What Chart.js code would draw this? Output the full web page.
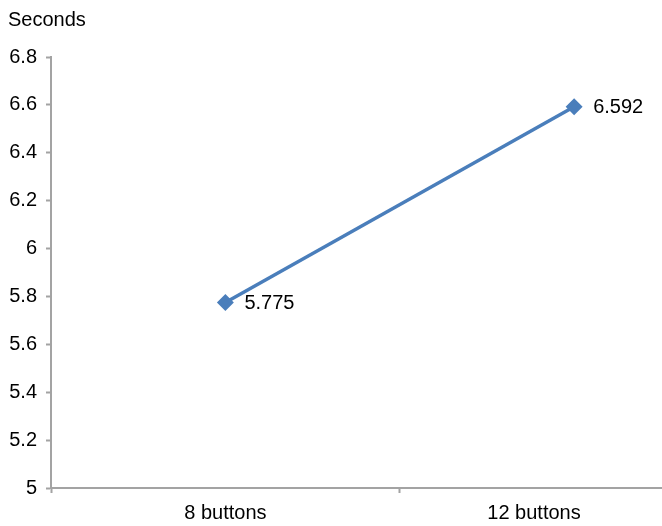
<!DOCTYPE html>
<html><head><meta charset="utf-8">
<script src="https://cdn.jsdelivr.net/npm/chart.js@4/dist/chart.umd.min.js"></script>
<style>html,body{margin:0;padding:0;overflow:hidden;background:#fff}#wrap{width:758px;height:526px}</style>
</head><body><div id="wrap"><canvas id="c" width="758" height="526"></canvas></div>
<script>
const categories = ["8 buttons", "12 buttons"];
const seconds = [5.775, 6.592];
const yTickValues = [5, 5.2, 5.4, 5.6, 5.8, 6, 6.2, 6.4, 6.6, 6.8];
const yTitle = "Seconds";

const FONT = "'Liberation Sans', Arial, sans-serif";
const AXIS = "#a3a3a3";
const LABEL_SHIFT = 0.885; // where the second category label sits on the x scale

const valueLabels = {
  id: 'valueLabels',
  afterDatasetsDraw(chart) {
    const ctx = chart.ctx;
    const meta = chart.getDatasetMeta(0);
    ctx.save();
    ctx.font = "20px " + FONT;
    ctx.fillStyle = "#000";
    ctx.textAlign = "left";
    ctx.textBaseline = "middle";
    meta.data.forEach((pt, i) => {
      ctx.fillText(String(seconds[i]), pt.x + 19, pt.y + 1);
    });
    ctx.restore();
  }
};

new Chart(document.getElementById('c'), {
  type: 'line',
  data: {
    datasets: [{
      data: seconds.map((v, i) => ({x: i, y: v})),
      borderColor: '#4a7ebb',
      backgroundColor: '#4a7ebb',
      borderWidth: 3.5,
      pointStyle: 'rectRot',
      pointRadius: 6,
      pointHoverRadius: 6,
      fill: false,
      tension: 0
    }]
  },
  options: {
    responsive: false,
    animation: false,
    events: [],
    layout: {padding: {left: 8, right: 0, top: 0, bottom: 0}},
    plugins: {
      legend: {display: false},
      tooltip: {enabled: false},
      title: {
        display: true, text: yTitle, align: 'start', color: '#000',
        font: {family: FONT, size: 20, weight: 'normal'},
        padding: {top: 8, bottom: 25}
      }
    },
    scales: {
      x: {
        type: 'linear', min: -0.5, max: 1.5,
        afterBuildTicks: s => {
          s.ticks = [{value: -0.5}, {value: 0}, {value: 0.5}, {value: LABEL_SHIFT}, {value: 1.5}];
        },
        afterFit: s => { s.height = 38; },
        border: {display: true, color: AXIS, width: 2},
        grid: {
          drawOnChartArea: false, drawTicks: true, tickLength: 5,
          tickColor: c => (c.tick && (c.tick.value === -0.5 || c.tick.value === 0.5 || c.tick.value === 1.5)) ? AXIS : 'rgba(0,0,0,0)',
          tickWidth: 2
        },
        ticks: {
          autoSkip: false, maxRotation: 0, padding: 8, color: '#000',
          font: {family: FONT, size: 20},
          callback: v => v === 0 ? categories[0] : (v === LABEL_SHIFT ? categories[1] : '')
        }
      },
      y: {
        min: 5, max: 6.8,
        afterBuildTicks: s => { s.ticks = yTickValues.map(v => ({value: v})); },
        afterFit: s => { s.width = 43; },
        border: {display: true, color: AXIS, width: 2},
        grid: {drawOnChartArea: false, drawTicks: true, tickLength: 5, tickColor: AXIS, tickWidth: 2},
        ticks: {
          padding: 9, color: '#000', font: {family: FONT, size: 20},
          callback: v => String(Number(v.toFixed(1)))
        }
      }
    }
  },
  plugins: [valueLabels]
});
</script></body></html>
